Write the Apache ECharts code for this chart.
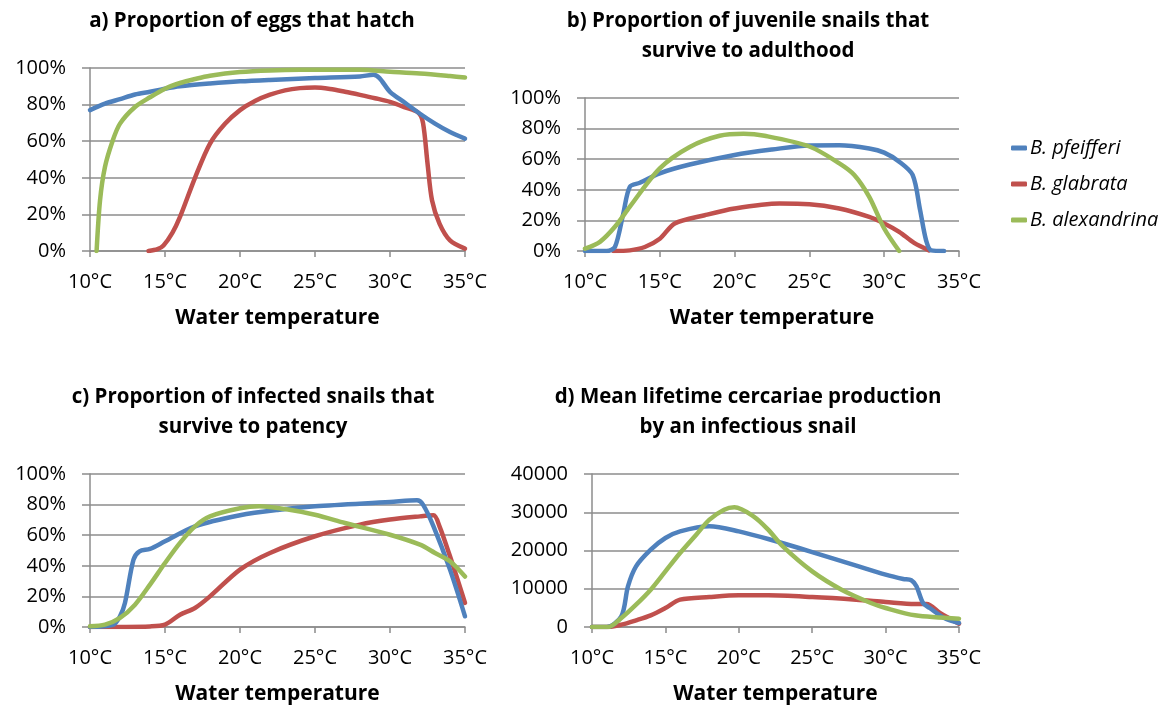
<!DOCTYPE html>
<html><head><meta charset="utf-8">
<script src="https://cdn.jsdelivr.net/npm/echarts@6/dist/echarts.min.js"></script>
<style>html,body{margin:0;background:#fff}#c{width:1160px;height:706px}</style>
</head><body><div id="c"></div>
<script>
// ---- data ----
const speciesNames = ['B. pfeifferi', 'B. glabrata', 'B. alexandrina'];
const panelTitles = [
  'a) Proportion of eggs that hatch',
  'b) Proportion of juvenile snails that\nsurvive to adulthood',
  'c) Proportion of infected snails that\nsurvive to patency',
  'd) Mean lifetime cercariae production\nby an infectious snail'
];
const xAxisTitle = 'Water temperature';
// [temperature °C, value]
const aPfeifferi = [[10,77],[11,80.5],[12,83],[13,85.5],[14,87],[15,88.7],[16,90],[18,91.5],[20,92.7],[22,93.5],[25,94.5],[28,95.4],[28.9,96.3],[29.3,94.5],[30,87],[31,81],[32,75],[33,69.6],[34,65],[35,61.4]];
const aGlabrata = [[13.9,0],[14.5,1],[14.9,3],[15.5,10],[16,18.6],[17,40],[18,58.7],[19,69.5],[20,77],[21,82],[22,85.4],[23,87.8],[24,89],[25,89.3],[26,88.5],[27,87],[28,85.3],[29,83.5],[30,81.5],[31,78.5],[31.9,75.5],[32.2,70],[32.5,48],[32.8,27.7],[33.3,15],[34,5.8],[35,1.3]];
const aAlexandrina = [[10.44,0],[10.67,27.7],[11,46],[11.5,60],[12,69.6],[13,78.7],[14,84],[15,88.7],[16,91.8],[17,94],[18,95.8],[20,97.8],[22,98.7],[24,99],[26,99],[28,99],[30,98],[32,97],[34,95.6],[35,94.8]];
const bPfeifferi = [[10,0],[11.45,0],[12,2.6],[12.56,24.5],[13,42],[13.67,44.6],[15,50.8],[17,56.5],[20,62.8],[22.5,66.3],[25,69],[27,69.1],[29,67],[30,64.3],[31,58.4],[31.9,49.7],[32.4,26.7],[32.8,7],[33.15,0.4],[34,0]];
const bGlabrata = [[11.9,0],[13,0.4],[14,2.6],[15,8],[16,18],[18,23.4],[20,27.8],[23,31],[25,30.6],[27,27.8],[29,22.3],[30,18],[31,12.5],[32,5.3],[33,0.4]];
const bAlexandrina = [[10,1.5],[11,6],[12,15.8],[13,29],[15,54],[17,68],[19,75.3],[20.6,76.6],[22,75.3],[25,68.3],[27,57.3],[28,49.7],[29,35.4],[30,14.7],[31,0]];
const cPfeifferi = [[10,0],[11.56,1.5],[12,7],[12.33,15.7],[12.9,44],[13.3,49.5],[14,51],[15,56],[17,65.8],[20,73],[22.5,76.5],[25,78.9],[30,81.7],[31.8,82.8],[32.2,80],[32.9,65.8],[34,37.5],[35,7]];
const cGlabrata = [[10,0],[14,0.4],[15,1.5],[16,8],[17,12.4],[18,20],[20,37.5],[22,48.4],[25,59.3],[28,66.9],[30,70.2],[32,72.3],[32.9,73],[33.3,65.8],[34,46.2],[35,15.7]];
const cAlexandrina = [[10,0.5],[11,1.5],[12,5.9],[13,14.6],[14,27.7],[15,41.8],[16,55],[17,65.8],[18,72.3],[20,77.6],[21.3,78.9],[23,77.1],[25,73.4],[27,68],[30,60.3],[32,53.8],[33,48.4],[34,43],[35,33]];
const dPfeifferi = [[10,0],[11,0],[12,2790],[12.45,10630],[13,15860],[14,20220],[15,23270],[16,25000],[18,26320],[20,25010],[22,23000],[25,19600],[28,16030],[30,13680],[31.2,12550],[31.75,12200],[32.1,10630],[32.55,6270],[33,4970],[34,2350],[35,1050]];
const dGlabrata = [[10,0],[11,0],[12,610],[13,1740],[14,3050],[15,4970],[16,7150],[18,7840],[20,8280],[22,8280],[25,7840],[28,7150],[30,6540],[32,6010],[32.8,6010],[33.7,3660],[35,870]];
const dAlexandrina = [[10,0],[11.1,0],[12,2350],[13,5840],[14,9760],[15,14550],[16,19350],[17.1,24140],[18,28060],[19,30680],[19.7,31290],[21,28930],[22,25450],[23,21090],[25,14550],[27,9760],[29,6270],[30,4970],[32,3050],[35,2180]];
const panelData = [
  [aPfeifferi, aGlabrata, aAlexandrina],
  [bPfeifferi, bGlabrata, bAlexandrina],
  [cPfeifferi, cGlabrata, cAlexandrina],
  [dPfeifferi, dGlabrata, dAlexandrina]
];
const yMax = [100, 100, 100, 40000];
const yInterval = [20, 20, 20, 10000];
const yIsPercent = [true, true, true, false];

// ---- layout / style ----
const colors = ['#4F81BD', '#C0504D', '#9BBB59'];
const FONT = 'Open Sans';
const grids = [
  {left: 90, top: 68, width: 375, height: 183},
  {left: 585, top: 98, width: 374, height: 153},
  {left: 90, top: 474, width: 375, height: 153},
  {left: 592, top: 474, width: 367, height: 153}
];
const titlePos = [
  {x: 252, y: 6}, {x: 748, y: 6}, {x: 253, y: 382}, {x: 748, y: 382}
];
const gridColor = '#8c8c8c';

const option = {
  animation: false,
  backgroundColor: '#fff',
  color: colors,
  textStyle: {fontFamily: FONT},
  title: panelTitles.map((t, i) => ({
    text: t, left: titlePos[i].x, top: titlePos[i].y, textAlign: 'center', padding: 0,
    textStyle: {fontFamily: FONT, fontWeight: 'bold', fontSize: 20.5, color: '#000', lineHeight: 30}
  })),
  legend: {
    data: speciesNames, orient: 'vertical', left: 1006, top: 133, itemWidth: 16, itemHeight: 5,
    itemGap: 16, icon: 'roundRect',
    textStyle: {fontFamily: FONT, fontStyle: 'italic', fontSize: 20, color: '#000', padding: [0,0,0,-2]}
  },
  grid: grids.map(g => Object.assign({containLabel: false}, g)),
  xAxis: grids.map((g, i) => ({
    type: 'value', gridIndex: i, min: 10, max: 35, interval: 5,
    name: xAxisTitle, nameLocation: 'middle', nameGap: 57,
    nameTextStyle: {fontFamily: FONT, fontWeight: 'bold', fontSize: 21, color: '#000'},
    axisLine: {show: true, onZero: false, lineStyle: {color: gridColor, width: 1.5}},
    axisTick: {show: true, length: 6, lineStyle: {color: gridColor, width: 1.5}},
    axisLabel: {formatter: '{value}°C', fontSize: 20, color: '#000', margin: 21, fontFamily: FONT},
    splitLine: {show: false}
  })),
  yAxis: grids.map((g, i) => ({
    type: 'value', gridIndex: i, min: 0, max: yMax[i], interval: yInterval[i],
    axisLine: {show: true, lineStyle: {color: gridColor, width: 1.5}},
    axisTick: {show: true, length: 8, lineStyle: {color: gridColor, width: 1.5}},
    axisLabel: {formatter: yIsPercent[i] ? '{value}%' : (v => String(v)), fontSize: 20, color: '#000', margin: 24, fontFamily: FONT},
    splitLine: {show: true, lineStyle: {color: gridColor, width: 1.5}}
  })),
  series: []
};
panelData.forEach((sets, i) => {
  sets.forEach((d, j) => {
    option.series.push({
      name: speciesNames[j], type: 'line', xAxisIndex: i, yAxisIndex: i,
      data: d, smooth: 0.3, showSymbol: false, symbol: 'none',
      lineStyle: {width: 4.5, color: colors[j], cap: 'round', join: 'round'},
      itemStyle: {color: colors[j]},
      z: 3 + (j === 1 ? 0 : j === 0 ? 1 : 2)
    });
  });
});
const chart = echarts.init(document.getElementById('c'), null, {renderer: 'canvas'});
chart.setOption(option);
</script></body></html>
